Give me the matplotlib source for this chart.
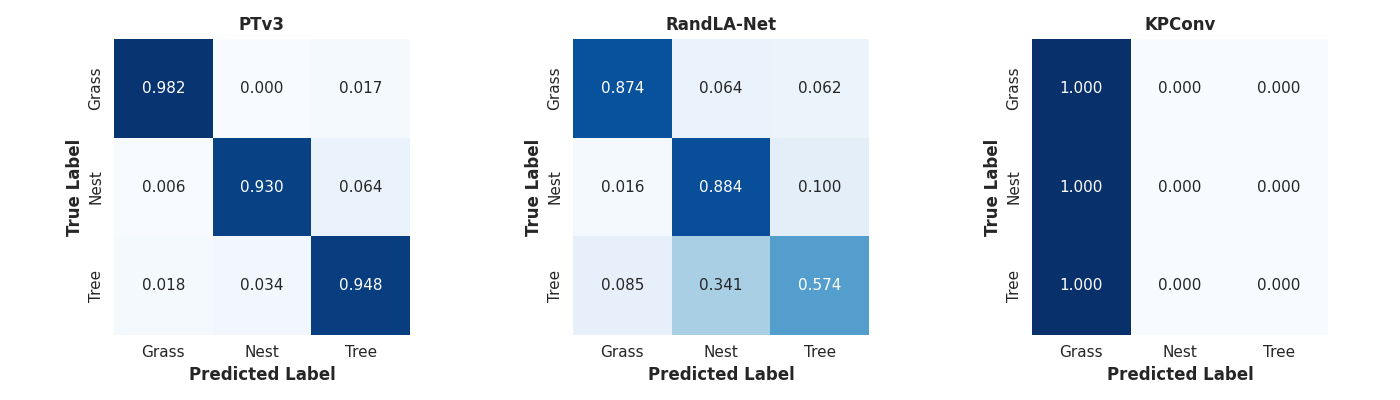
import matplotlib
matplotlib.use("Agg")
import matplotlib.pyplot as plt
import seaborn as sns
import numpy as np

sns.set_theme(style="white")
plt.rcParams['font.family'] = ['DejaVu Sans']

classes = ["Grass", "Nest", "Tree"]
models = ["PTv3", "RandLA-Net", "KPConv"]
cm_ptv3 = [[0.982, 0.000, 0.017],
           [0.006, 0.930, 0.064],
           [0.018, 0.034, 0.948]]
cm_randla = [[0.874, 0.064, 0.062],
             [0.016, 0.884, 0.100],
             [0.085, 0.341, 0.574]]
cm_kpconv = [[1.000, 0.000, 0.000],
             [1.000, 0.000, 0.000],
             [1.000, 0.000, 0.000]]
matrices = [cm_ptv3, cm_randla, cm_kpconv]

fig = plt.figure(figsize=(14, 4), dpi=100)
lefts = [114, 573, 1032]
for left, name, cm in zip(lefts, models, matrices):
    ax = fig.add_axes([left / 1400, 65 / 400, 296 / 1400, 296 / 400])
    sns.heatmap(np.array(cm), annot=True, fmt=".3f", cmap="Blues", vmin=0, vmax=1,
                cbar=False, ax=ax, xticklabels=classes, yticklabels=classes,
                annot_kws={"size": 11})
    ax.set_title(name, fontsize=12, fontweight="bold", pad=6.2)
    ax.set_xlabel("Predicted Label", fontsize=12, fontweight="bold", labelpad=4)
    ax.set_ylabel("True Label", fontsize=12, fontweight="bold", labelpad=3.5)
    ax.tick_params(axis="both", labelsize=11, pad=1.5)
    ax.set_yticklabels(classes, rotation=90, va="center")

fig.savefig("out.png", dpi=100)
